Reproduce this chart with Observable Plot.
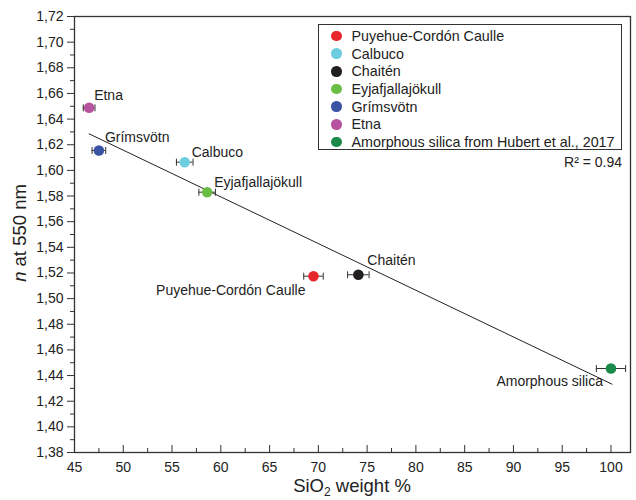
<!DOCTYPE html>
<html>
<head>
<meta charset="utf-8">
<script src="https://cdn.jsdelivr.net/npm/d3@7"></script>
<script src="https://cdn.jsdelivr.net/npm/@observablehq/plot@0.6"></script>
<style>
  html, body { margin: 0; padding: 0; background: #fff; }
  body { font-family: "Liberation Sans", Arial, sans-serif; }
  #wrap { position: relative; width: 636px; height: 500px; overflow: hidden; }
  #legend { position: absolute; left: 318px; top: 24px; width: 304px; height: 126px;
            border: 1.3px solid #333; box-sizing: border-box; background: #fff; }
  .row { position: absolute; left: 0; height: 18px; display: flex; align-items: center; font-size: 14.3px; color: #222; white-space: nowrap; }
  .row .dot { width: 10.5px; height: 10.5px; border-radius: 50%; margin-left: 12px; margin-right: 10px; }
  #ylab { position: absolute; left: 20px; top: 233px; transform: translate(-50%, -50%) rotate(-90deg);
          font-size: 18.5px; color: #222; white-space: nowrap; }
  #xlab { position: absolute; left: 352px; top: 476px; transform: translateX(-50%);
          font-size: 18.5px; line-height: 20px; color: #222; white-space: nowrap; }
  #xlab sub { font-size: 12px; vertical-align: -4px; line-height: 0; }
  #r2 { position: absolute; right: 14px; top: 154px; font-size: 14px; color: #222; }
  svg text { fill: #222; }
</style>
</head>
<body>
<div id="wrap"></div>
<script>
// ---- data ----
const legendNames = ["Puyehue-Cordón Caulle", "Calbuco", "Chaitén", "Eyjafjallajökull", "Grímsvötn", "Etna", "Amorphous silica from Hubert et al., 2017"];
const pointLabels = ["Puyehue-Cordón Caulle", "Calbuco", "Chaitén", "Eyjafjallajökull", "Grímsvötn", "Etna", "Amorphous silica"];
const sio2 = [69.5, 56.3, 74.1, 58.6, 47.5, 46.5, 100.0];
const sio2Err = [1.0, 0.85, 1.1, 0.85, 0.7, 0.6, 1.5];
const nAt550 = [1.5175, 1.6064, 1.5186, 1.583, 1.6155, 1.6488, 1.4455];
const colors = ["#e8262d", "#6dcde0", "#231f20", "#6abd45", "#3a53a4", "#b7529f", "#1a8a4a"];
const fitSiO2 = [46.5, 100.1];
const fitN = [1.6285, 1.4333];
const xTicks = [45, 50, 55, 60, 65, 70, 75, 80, 85, 90, 95, 100];
const yTicks = [1.38, 1.40, 1.42, 1.44, 1.46, 1.48, 1.50, 1.52, 1.54, 1.56, 1.58, 1.60, 1.62, 1.64, 1.66, 1.68, 1.70, 1.72];
const r2Text = "R² = 0.94";

// ---- derived tables ----
const points = legendNames.map((name, i) => ({name, label: pointLabels[i], x: sio2[i], e: sio2Err[i], y: nAt550[i], color: colors[i]}));
const fit = fitSiO2.map((x, i) => ({x, y: fitN[i]}));
const xMinor = d3.range(47.5, 102, 5);
const yMinor = d3.range(0, 17).map(i => 1.39 + i * 0.02);

// label placement (style, not data)
const labelStyle = {
  "Etna": {dx: 5, dy: -12, textAnchor: "start"},
  "Grímsvötn": {dx: 6, dy: -13, textAnchor: "start"},
  "Calbuco": {dx: 7, dy: -10, textAnchor: "start"},
  "Eyjafjallajökull": {dx: 7, dy: -10, textAnchor: "start"},
  "Chaitén": {dx: 9, dy: -14, textAnchor: "start"},
  "Puyehue-Cordón Caulle": {dx: -8, dy: 14, textAnchor: "end"},
  "Amorphous silica": {dx: -8, dy: 13, textAnchor: "end"}
};

const capSymbol = {draw(ctx) { ctx.moveTo(0, -3.5); ctx.lineTo(0, 3.5); }};

const fmt = d => d.toFixed(2).replace(".", ",");

const chart = Plot.plot({
  width: 636,
  height: 500,
  marginLeft: 74,
  marginRight: 6,
  marginTop: 16,
  marginBottom: 48,
  style: {fontFamily: "'Liberation Sans', Arial, sans-serif", fontSize: "14px", color: "#222", background: "#fff"},
  x: {domain: [45, 102]},
  y: {domain: [1.38, 1.72]},
  marks: [
    Plot.axisY(yTicks, {tickSize: 7, tickPadding: 4, tickFormat: fmt, fontSize: 14, label: null, stroke: "#333"}),
    Plot.axisY(yMinor, {tickSize: 4, tickFormat: () => "", label: null, stroke: "#333"}),
    Plot.axisX(xTicks, {tickSize: 0, tickPadding: 10, fontSize: 14, label: null}),
    Plot.axisX(xTicks, {tickSize: -7, tickFormat: () => "", label: null, stroke: "#333"}),
    Plot.axisX(xMinor, {tickSize: -4, tickFormat: () => "", label: null, stroke: "#333"}),
    Plot.frame({stroke: "#333", strokeWidth: 1.3}),
    Plot.line(fit, {x: "x", y: "y", stroke: "#222", strokeWidth: 1}),
    Plot.ruleY(points, {x1: d => d.x - d.e, x2: d => d.x + d.e, y: "y", stroke: "#333", strokeWidth: 1}),
    Plot.dot(points, {x: d => d.x - d.e, y: "y", symbol: capSymbol, stroke: "#333", strokeWidth: 1, fill: "none"}),
    Plot.dot(points, {x: d => d.x + d.e, y: "y", symbol: capSymbol, stroke: "#333", strokeWidth: 1, fill: "none"}),
    Plot.dot(points, {x: "x", y: "y", r: 5.3, fill: "color", stroke: "none"}),
    ...points.map(p => Plot.text([p], {x: "x", y: "y", text: "label", fontSize: 14, fill: "#222", ...labelStyle[p.label]}))
  ]
});

const wrap = document.getElementById("wrap");
wrap.appendChild(chart);

// legend
const legend = document.createElement("div");
legend.id = "legend";
points.forEach((p, i) => {
  const row = document.createElement("div");
  row.className = "row";
  row.style.top = (2 + i * 17.65) + "px";
  const dot = document.createElement("span");
  dot.className = "dot";
  dot.style.background = p.color;
  const t = document.createElement("span");
  t.textContent = p.name;
  row.appendChild(dot);
  row.appendChild(t);
  legend.appendChild(row);
});
wrap.appendChild(legend);

const r2 = document.createElement("div");
r2.id = "r2";
r2.textContent = r2Text;
wrap.appendChild(r2);

const ylab = document.createElement("div");
ylab.id = "ylab";
ylab.innerHTML = "<i>n</i> at 550 nm";
wrap.appendChild(ylab);

const xlab = document.createElement("div");
xlab.id = "xlab";
xlab.innerHTML = "SiO<sub>2</sub> weight %";
wrap.appendChild(xlab);
</script>
</body>
</html>
